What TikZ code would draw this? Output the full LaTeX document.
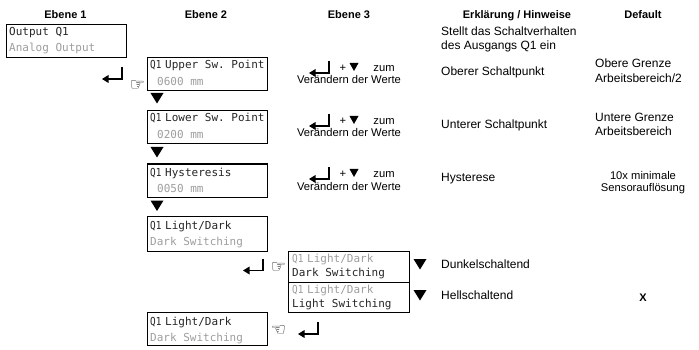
\documentclass[tikz,border=0pt]{standalone}
\usepackage{fontspec}
\setmainfont{Liberation Sans}
\setmonofont{DejaVu Sans Mono}
\newfontfamily\symfont{DejaVu Sans}
\newfontfamily\lcdnarrow[FakeStretch=0.85]{DejaVu Sans Mono}
\newcommand{\enterkey}[2]{%
  \draw[line width=1.7pt] (#1,#2) -- ++(0,12) -- ++(-15,0);
  \fill (#1-20,#2+12) -- ++(6.5,-4) -- ++(0,8) -- cycle;}
\newcommand{\downtri}[2]{\fill (#1-6.5,#2) -- ++(13,0) -- ++(-6.5,10.5) -- cycle;}
\newcommand{\smalltri}[2]{\fill (#1-4.5,#2) -- ++(9,0) -- ++(-4.5,8) -- cycle;}
\tikzset{
  x=1pt,y=-1pt,
  lcdbox/.style={draw=black,line width=1.1pt,fill=white,inner sep=0,minimum width=120pt,minimum height=#1,anchor=north west},
  lcdbox/.default=33pt,
  lcd/.style={font=\fontsize{11}{11}\ttfamily,anchor=base west,inner sep=0,text=black!85},
  lcdq/.style={font=\fontsize{11}{11}\lcdnarrow,anchor=base west,inner sep=0,text=black!85},
  dim/.style={text=black!38},
  head/.style={font=\fontsize{11}{12}\selectfont\bfseries,anchor=base,inner sep=0},
  body/.style={font=\fontsize{12}{14}\selectfont,anchor=base west,inner sep=0,align=left},
  small/.style={font=\fontsize{11.2}{11}\selectfont,anchor=base,inner sep=0,align=center},
  hand/.style={font=\fontsize{17}{17}\symfont,inner sep=0,text=black},
}
\begin{document}
\begin{tikzpicture}
\useasboundingbox (0,0) rectangle (699,350);
% headers
\node[head] (h1) at (65.5,19) {Ebene 1};
\node[head] (h2) at (206,19) {Ebene 2};
\node[head] (h3) at (349,19) {Ebene 3};
\node[head] (h4) at (517,19) {Erklärung / Hinweise};
\node[head] (h5) at (643,19) {Default};
% boxes
\node[lcdbox] (b1) at (6,24) {};
\node[lcdbox] (b2) at (147,57) {};
\node[lcdbox] (b3) at (147,110) {};
\node[lcdbox] (b4) at (147,163.5) {};
\node[lcdbox=35pt] (b5) at (147,216) {};
\node[lcdbox=31pt,minimum width=121pt] (b6) at (288,251) {};
\node[lcdbox=30pt,minimum width=121pt] (b7) at (288,282) {};
\node[lcdbox] (b8) at (147,312) {};
% box texts
\node[lcd] (t1a) at (9,36) {Output Q1};
\node[lcd,dim] (t1b) at (9,52) {Analog Output};
\node[lcdq] (t2q) at (150,69) {Q1};
\node[lcd] (t2a) at (165,69) {Upper Sw. Point};
\node[lcd,dim] (t2b) at (157,86) {0600 mm};
\node[lcdq] (t3q) at (150,122) {Q1};
\node[lcd] (t3a) at (165,122) {Lower Sw. Point};
\node[lcd,dim] (t3b) at (157,139) {0200 mm};
\node[lcdq] (t4q) at (150,176) {Q1};
\node[lcd] (t4a) at (165,176) {Hysteresis};
\node[lcd,dim] (t4b) at (157,192.5) {0050 mm};
\node[lcdq] (t5q) at (150,229) {Q1};
\node[lcd] (t5a) at (165,229) {Light/Dark};
\node[lcd,dim] (t5b) at (150,245.5) {Dark Switching};
\node[lcdq,dim] (t6q) at (292,262) {Q1};
\node[lcd,dim] (t6a) at (307,262) {Light/Dark};
\node[lcd] (t6b) at (292,276) {Dark Switching};
\node[lcdq,dim] (t7q) at (292,293) {Q1};
\node[lcd,dim] (t7a) at (307,293) {Light/Dark};
\node[lcd] (t7b) at (292,307) {Light Switching};
\node[lcdq] (t8q) at (150,325) {Q1};
\node[lcd] (t8a) at (165,325) {Light/Dark};
\node[lcd,dim] (t8b) at (150,341.5) {Dark Switching};
% triangles
\downtri{157}{93}
\downtri{157}{147}
\downtri{157}{200.5}
\downtri{420}{259}
\downtri{420}{290}
% enter keys
\enterkey{122}{67}
\enterkey{263}{258.5}
\enterkey{318}{322}
% hands
\node[hand] (p1) at (137.5,86) {☞};
\node[hand] (p2) at (278.5,268) {☞};
\node[hand] (p3) at (278.5,331) {☜};
% Ebene 3 rows
\foreach \d/\n in {0/a,53/b,106/c}{
  \enterkey{329}{61+\d}
  \node[small] (plus\n) at (343,72+\d) {+};
  \smalltri{354}{63+\d}
  \node[small] (zum\n) at (384,72+\d) {zum};
  \node[small] (ver\n) at (349,84+\d) {Verändern der Werte};
}
% explanations
\node[body] (e1) at (441,36) {Stellt das Schaltverhalten};
\node[body] (e1b) at (441,50) {des Ausgangs Q1 ein};
\node[body] (e2) at (441,76) {Oberer Schaltpunkt};
\node[body] (e3) at (441,129) {Unterer Schaltpunkt};
\node[body] (e4) at (441,182) {Hysterese};
\node[body] (e5) at (441,268) {Dunkelschaltend};
\node[body] (e6) at (441,299) {Hellschaltend};
% defaults
\node[body] (d1) at (595,68) {Obere Grenze};
\node[body] (d1b) at (595,83) {Arbeitsbereich/2};
\node[body] (d2) at (595,122) {Untere Grenze};
\node[body] (d2b) at (595,136) {Arbeitsbereich};
\node[small] (d3) at (643,179) {10x minimale};
\node[small] (d3b) at (643,191) {Sensorauflösung};
\node[head] (d4) at (643,301) {X};
\end{tikzpicture}
\end{document}
